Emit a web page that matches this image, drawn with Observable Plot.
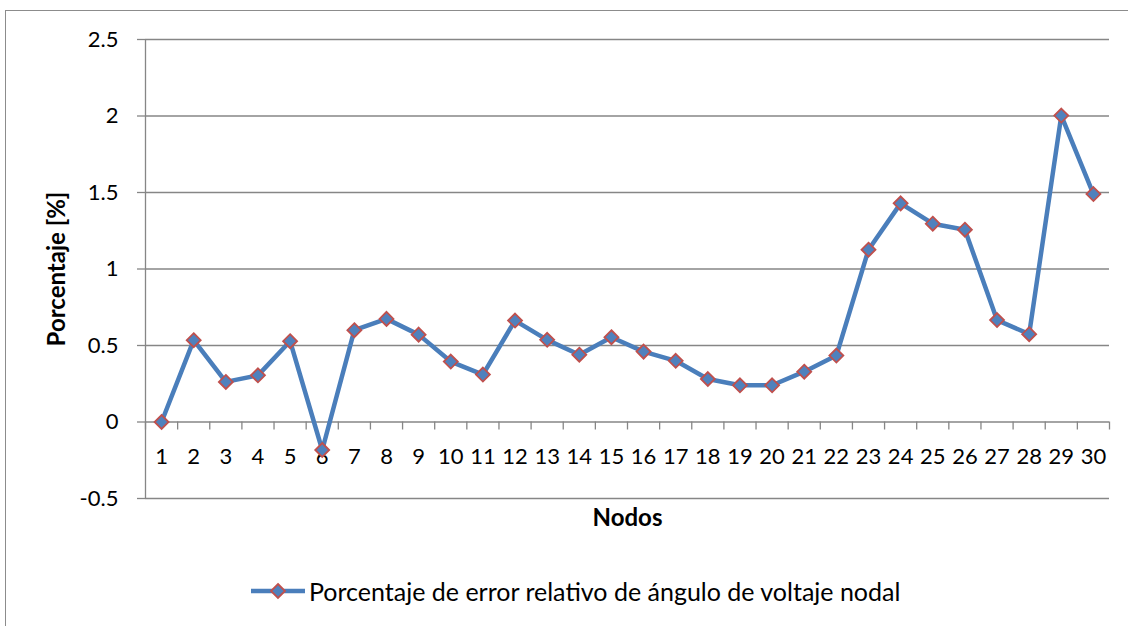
<!DOCTYPE html>
<html>
<head>
<meta charset="utf-8">
<script src="https://cdn.jsdelivr.net/npm/d3@7"></script>
<script src="https://cdn.jsdelivr.net/npm/@observablehq/plot@0.6"></script>
<style>
  html, body { margin: 0; padding: 0; background: #fff; width: 1128px; height: 626px; overflow: hidden; }
  body { font-family: Lato, "Open Sans", sans-serif; position: relative; }
  #frame { position: absolute; left: 5px; top: 10px; width: 1300px; height: 800px;
           border-left: 1.5px solid #8c8c8c; border-top: 1.5px solid #8c8c8c; box-sizing: border-box; }
  #chart { position: absolute; left: 0; top: 0; }
  #legend { position: absolute; left: 250px; top: 576px; display: flex; align-items: center;
            font-size: 25px; color: #000; white-space: nowrap; }
</style>
</head>
<body>
<div id="frame"></div>
<div id="chart"></div>
<div id="legend"></div>
<script>
const nodes = [1,2,3,4,5,6,7,8,9,10,11,12,13,14,15,16,17,18,19,20,21,22,23,24,25,26,27,28,29,30];
const errorPct = [0, 0.535, 0.262, 0.305, 0.528, -0.183, 0.60, 0.674, 0.571, 0.395,
                  0.31, 0.663, 0.537, 0.44, 0.554, 0.46, 0.40, 0.281, 0.24, 0.24,
                  0.329, 0.434, 1.126, 1.429, 1.296, 1.257, 0.666, 0.574, 2.003, 1.49];
const yTicks = [-0.5, 0, 0.5, 1, 1.5, 2, 2.5];
const seriesName = "Porcentaje de error relativo de ángulo de voltaje nodal";
const xTitle = "Nodos";
const yTitle = "Porcentaje [%]";

const data = nodes.map((n, i) => ({node: n, value: errorPct[i]}));
const boundaries = [...nodes.map(n => n - 0.5), nodes[nodes.length - 1] + 0.5];

const gray = "#868686";
const lineBlue = "#4a7ebb";
const markFill = "#4f81bd";
const markStroke = "#c0504d";
const fs = 22;
const tfs = 24;

const chart = Plot.plot({
  width: 1128,
  height: 540,
  marginLeft: 145,
  marginRight: 19,
  marginTop: 39,
  marginBottom: 42,
  style: {fontFamily: "Lato, 'Open Sans', sans-serif", fontSize: fs + "px", background: "transparent", color: "#000"},
  x: {type: "linear", domain: [0.5, 30.5], axis: null},
  y: {domain: [-0.5, 2.5], axis: null},
  marks: [
    Plot.gridY(yTicks, {stroke: gray, strokeOpacity: 1, strokeWidth: 1.3}),
    Plot.ruleX([boundaries[0]], {stroke: gray, strokeWidth: 1.3}),
    Plot.axisY(yTicks, {tickSize: 8, tickPadding: 19, stroke: gray, strokeWidth: 1.3, fill: "#000",
                         tickFormat: d => String(d), fontSize: fs, label: null}),
    Plot.ruleX(boundaries, {x: d => d, y1: 0, y2: 0, insetBottom: -8, stroke: gray, strokeWidth: 1.3}),
    Plot.text(nodes, {x: d => d, y: 0, dy: 35, text: d => String(d), fontSize: fs, fill: "#000"}),
    Plot.text([yTitle], {frameAnchor: "left", textAnchor: "middle", lineAnchor: "middle", dx: -88, rotate: -90,
                         fontWeight: "bold", fontSize: tfs, fill: "#000"}),
    Plot.text([xTitle], {frameAnchor: "bottom", textAnchor: "middle", lineAnchor: "middle", dy: 20,
                         fontWeight: "bold", fontSize: tfs, fill: "#000"}),
    Plot.line(data, {x: "node", y: "value", stroke: lineBlue, strokeWidth: 4.5}),
    Plot.dot(data, {x: "node", y: "value", symbol: "diamond2", r: 6.3, fill: markFill, stroke: markStroke, strokeWidth: 1.8})
  ]
});
document.getElementById("chart").appendChild(chart);

// legend
const leg = document.getElementById("legend");
leg.innerHTML = `<svg width="56" height="20" style="margin-right:3px"><line x1="1" x2="55" y1="10" y2="10" stroke="${lineBlue}" stroke-width="4.5"/><path d="M28,3 L35,10 L28,17 L21,10 Z" fill="${markFill}" stroke="${markStroke}" stroke-width="1.8"/></svg><span></span>`;
leg.querySelector("span").textContent = seriesName;
</script>
</body>
</html>
